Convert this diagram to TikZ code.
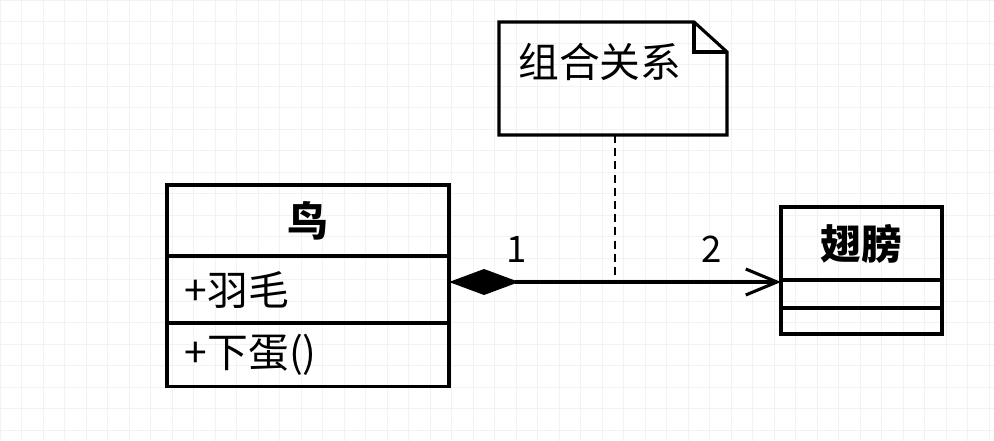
\documentclass[tikz,border=0pt]{standalone}
\usepackage{fontspec}
\setmainfont{Noto Sans CJK SC}
\usetikzlibrary{arrows.meta,calc}
\definecolor{gridgray}{HTML}{F2F2F2}
\begin{document}
\begin{tikzpicture}[x=0.025cm,y=-0.025cm,
    font=\fontsize{29pt}{34pt}\selectfont,
    box/.style={draw,line width=2.2pt,rectangle,inner sep=0pt,outer sep=0pt},
    member/.style={box,text width=6.15cm,align=left,inner xsep=0.45cm},
    num/.style={font=\fontsize{26pt}{30pt}\selectfont}]
      \useasboundingbox (0,0) rectangle (994,441);
      \fill[white] (0,0) rectangle (994,441);
      \draw[gridgray, line width=0.7pt, step=0.5375cm] (0,0) grid (994,441);
      % classes
      \node[box, minimum width=7.05cm, minimum height=1.775cm, font=\fontsize{29pt}{34pt}\selectfont\bfseries] (bird) at (308,220.5) {鸟};
      \node[member, minimum height=1.675cm, anchor=north] (birdattr) at (bird.south) {+羽毛};
      \node[member, minimum height=1.575cm, anchor=north] (birdop) at (birdattr.south) {+下蛋()};
      \node[box, minimum width=4.025cm, minimum height=1.825cm, font=\fontsize{29pt}{34pt}\selectfont\bfseries] (wing) at (861.5,243.5) {翅膀};
      \node[box, minimum width=4.025cm, minimum height=0.7cm, anchor=north] (wingattr) at (wing.south) {};
      \node[box, minimum width=4.025cm, minimum height=0.65cm, anchor=north] (wingop) at (wingattr.south) {};
      % note
      \node[inner sep=0pt, outer sep=0pt, minimum width=5.7cm, minimum height=2.825cm] (note) at (613,78.5) {};
      \draw[line width=2.2pt, line join=miter] (note.north west) -- ($(note.north east)+(-33,0)$)
        -- ($(note.north east)+(0,30)$) -- (note.south east) -- (note.south west) -- cycle;
      \draw[line width=2.2pt] ($(note.north east)+(-33,0)$) -- ($(note.north east)+(-33,30)$) -- ($(note.north east)+(0,30)$);
      \node[anchor=west, inner sep=0pt] (notetext) at (518,62) {组合关系};
      % composition
      \coordinate (link) at (615,282);
      \draw[line width=2.2pt, {Diamond[length=1.75cm,width=0.65cm]}-{Straight Barb[length=0.78cm,width=0.65cm]}]
        (birdattr.east |- link) -- (wingattr.west |- link);
      \draw[line width=2pt, dash pattern=on 0.2cm off 0.13cm] (link |- note.south) -- (link);
      \node[num] (one) at (517,249) {1};
      \node[num] (two) at (712,249) {2};
\end{tikzpicture}
\end{document}
